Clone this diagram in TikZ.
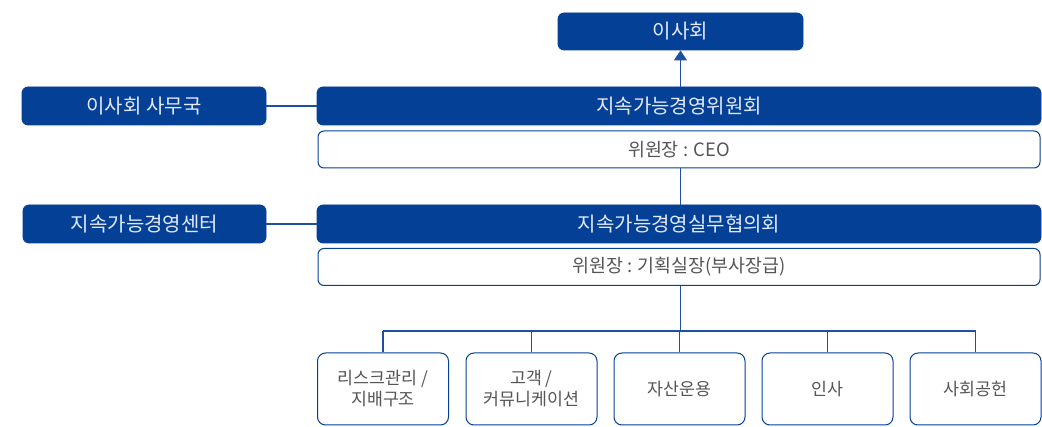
\documentclass[tikz,border=0pt]{standalone}
\usepackage{fontspec}
\setmainfont{Noto Sans CJK KR}
\usetikzlibrary{arrows.meta}
\definecolor{navy}{RGB}{4,64,150}
\definecolor{linec}{RGB}{30,80,160}
\definecolor{txtlight}{RGB}{228,234,245}
\definecolor{txtgrey}{RGB}{85,85,85}
\tikzset{
  bluebox/.style={draw=navy, fill=navy, rounded corners=6pt, inner sep=0pt,
    text=txtlight, font=\fontsize{20}{24}\selectfont, line width=0.8pt},
  whitebox/.style={draw=navy, fill=white, rounded corners=6pt, inner sep=0pt,
    text=txtgrey, font=\fontsize{18.4}{22}\selectfont, line width=1pt},
  unitbox/.style={draw=navy, fill=white, rounded corners=8pt, inner sep=0pt,
    text=txtgrey, font=\fontsize{17.3}{21}\selectfont, align=center,
    minimum width=131pt, minimum height=72pt, line width=1pt},
  conn/.style={draw=linec, line width=1.3pt}
}
\begin{document}
\begin{tikzpicture}[x=1pt,y=-1pt]
\useasboundingbox (0,0) rectangle (1042,427);
\node[bluebox, minimum width=245pt, minimum height=37pt] (board) at (680.5,31.5) {이사회};
\node[bluebox, minimum width=244pt, minimum height=38pt] (sec) at (144,106) {이사회 사무국};
\node[bluebox, minimum width=724pt, minimum height=38pt] (comm) at (679,106) {지속가능경영위원회};
\node[whitebox, minimum width=722pt, minimum height=37pt] (chair1) at (679,149.5) {위원장 : CEO};
\node[bluebox, minimum width=243pt, minimum height=38pt] (center) at (144.5,224) {지속가능경영센터};
\node[bluebox, minimum width=724pt, minimum height=38pt] (work) at (679,224) {지속가능경영실무협의회};
\node[whitebox, minimum width=722pt, minimum height=37pt] (chair2) at (679,267) {위원장 : 기획실장(부사장급)};
\node[unitbox] (u1) at (383,389) {리스크관리 /\\지배구조};
\node[unitbox] (u2) at (531.5,389) {고객 /\\커뮤니케이션};
\node[unitbox] (u3) at (679.5,389) {자산운용};
\node[unitbox] (u4) at (827.5,389) {인사};
\node[unitbox] (u5) at (975.5,389) {사회공헌};
\coordinate (hy) at (0,331);
\draw[conn, -{Triangle[width=13pt,length=10pt]}] (comm.north -| board.south) -- (board.south);
\draw[conn] (sec.east) -- (comm.west);
\draw[conn] (center.east) -- (work.west);
\draw[conn] (chair1.south -| board.south) -- (work.north -| board.south);
\draw[conn] (chair2.south -| board.south) -- (board.south |- hy);
\draw[conn] (u1.north |- hy) -- (u5.north |- hy);
\foreach \u in {u1,u2,u3,u4,u5}{
  \draw[conn] (\u.north) -- (\u.north |- hy);
}
\end{tikzpicture}
\end{document}
